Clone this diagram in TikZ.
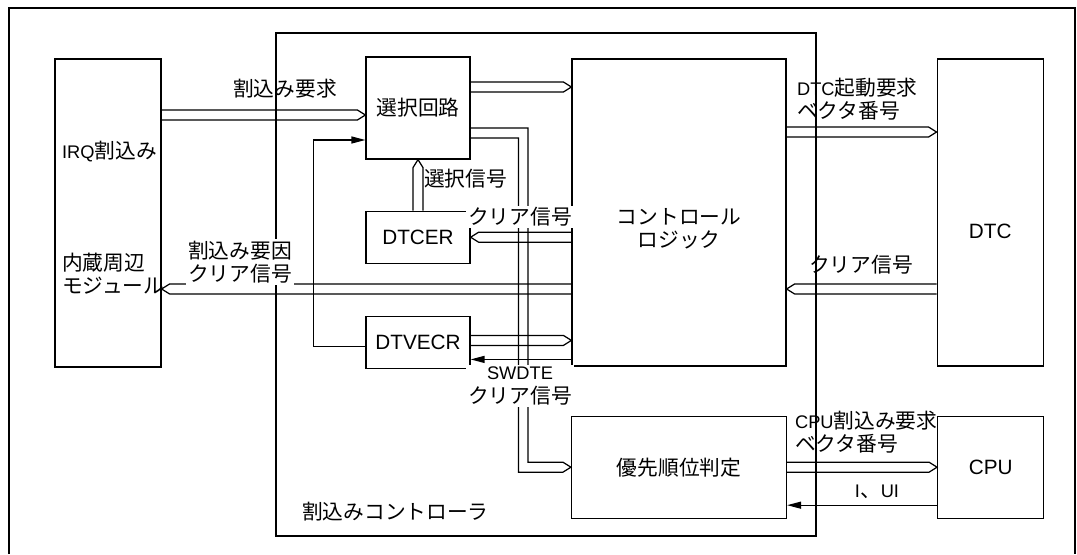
\documentclass[tikz,border=0pt]{standalone}
\usepackage{fontspec}
\setmainfont{Noto Sans CJK JP}
\newfontfamily\lat{Liberation Sans}
\newfontfamily\latsm[Scale=0.88]{Liberation Sans}
\usepackage{tikz}
\usetikzlibrary{arrows.meta,positioning,calc}
\newcommand{\busR}[2]{\draw[bus] ($(#1)+(0,-5)$) -- ($(#2)+(-8,-5)$) -- (#2) -- ($(#2)+(-8,5)$) -- ($(#1)+(0,5)$);}
\newcommand{\busL}[2]{\draw[bus] ($(#1)+(0,-5)$) -- ($(#2)+(8,-5)$) -- (#2) -- ($(#2)+(8,5)$) -- ($(#1)+(0,5)$);}
\newcommand{\busU}[2]{\draw[bus] ($(#1)+(-5,0)$) -- ($(#2)+(-5,8)$) -- (#2) -- ($(#2)+(5,8)$) -- ($(#1)+(5,0)$);}

\begin{document}
\begin{tikzpicture}[
    x=0.02cm, y=-0.02cm,
    font=\fontsize{11.8}{13.2}\selectfont,
    box/.style={rectangle, draw, line width=0.7pt, inner sep=0pt, align=center},
    bus/.style={draw, line width=0.7pt},
    arrow/.style={-{Triangle[length=0.28cm, width=0.14cm]}, line width=0.7pt},
    lbl/.style={inner sep=1pt, align=center}
]
\useasboundingbox (0,0) rectangle (1077,554);

% Frames
\draw[line width=0.7pt] (9,554) |- (1075,8) -- (1075,554);
\node[box, minimum width=10.8cm, minimum height=10.06cm] (intc) at (546,284.5) {};

% Nodes
\node[box, minimum width=2.12cm, minimum height=6.16cm] (mod) at (108,213) {};
\node[box, minimum width=2.08cm, minimum height=2.04cm] (sel) at (418,108) {選択回路};
\node[box, minimum width=2.08cm, minimum height=1.04cm, below=1.02cm of sel] (dtcer) {{\lat DTCER}};
\node[box, minimum width=2.08cm, minimum height=1.04cm, below=1.04cm of dtcer] (dtvecr) {{\lat DTVECR}};
\node[box, minimum width=4.28cm, minimum height=6.14cm] (ctrl) at (679,212.5) {};
\node[box, minimum width=2.12cm, minimum height=6.14cm, right=3cm of ctrl] (dtc) {};
\node[box, minimum width=4.3cm, minimum height=2.04cm, below=0.98cm of ctrl] (prio) {優先順位判定};
\node[box, minimum width=2.12cm, minimum height=2.04cm, right=3cm of prio] (cpu) {{\lat CPU}};

\node[align=center] (ctrltxt) at ([yshift=-0.32cm]ctrl.center) {コントロール\\ロジック};
\node (dtctxt) at ([yshift=-0.37cm]dtc.center) {{\lat DTC}};
\node[lbl, anchor=west] (irqtxt) at (60,152) {{\latsm IRQ}割込み};
\node[lbl, anchor=west, align=left] (modtxt) at (60,274) {内蔵周辺\\モジュール};
\node[lbl, anchor=west] (intctxt) at (300,512) {割込みコントローラ};

% Bus ends
\coordinate (reqin) at ([yshift=-0.14cm]sel.west);
\coordinate (selout) at ([yshift=0.42cm]sel.east);
\coordinate (selprio) at ([yshift=-0.5cm]sel.east);
\coordinate (dtcout) at ([yshift=1.61cm]ctrl.east);
\coordinate (dtcclr) at ([yshift=-1.53cm]dtc.west);
\coordinate (vecout) at ([yshift=0.04cm]dtvecr.east);
\coordinate (vecin) at ([yshift=-0.08cm]dtvecr.west);
\coordinate (selin) at ([yshift=-0.64cm]sel.west);
\coordinate (swdte) at ([yshift=-0.34cm]dtvecr.east);
\coordinate (iui) at ([yshift=-0.76cm]prio.east);

% Arrows
\busR{mod.east |- reqin}{reqin}
\busR{selout}{ctrl.west |- selout}
\busR{dtcout}{dtc.west |- dtcout}
\busL{dtcclr}{ctrl.east |- dtcclr}
\busL{ctrl.west |- dtcer.east}{dtcer.east}
\busL{ctrl.west |- dtcclr}{mod.east |- dtcclr}
\busR{vecout}{ctrl.west |- vecout}
\busU{dtcer.north}{sel.south}
\busR{prio.east}{cpu.west}
\draw[bus] ($(selprio)+(0,-5)$) -| ($(prio.west)+(-43,-5)$) -- ($(prio.west)+(-8,-5)$) -- (prio.west)
    -- ($(prio.west)+(-8,5)$) -| ($(selprio)+(48,5)$) -- ($(selprio)+(0,5)$);
\draw[arrow] (vecin) -- ++(-52,0) |- (selin);
\draw[arrow] (ctrl.west |- swdte) -- (swdte);
\draw[arrow] (cpu.west |- iui) -- (iui);

% Labels
\node[lbl] (reqlbl) at (285,89) {割込み要求};
\node[lbl, anchor=west] (sellbl) at (422,179) {選択信号};
\node[lbl, fill=white] (erclr) at (520,217) {クリア信号};
\node[lbl, fill=white] (modclr) at (240,262) {割込み要因\\クリア信号};
\node[lbl, fill=white] (swclr) at (520,386) {{\latsm SWDTE}\\クリア信号};
\node[lbl, anchor=west, align=left] (dtcreq) at (795,99.5) {{\latsm DTC}起動要求\\ベクタ番号};
\node[lbl] (dtcclrlbl) at (861,265) {クリア信号};
\node[lbl, anchor=west, align=left] (cpureq) at (793,432) {{\latsm CPU}割込み要求\\ベクタ番号};
\node[lbl] (iuilbl) at (877,492) {{\latsm I}、{\latsm UI}};
\end{tikzpicture}
\end{document}
